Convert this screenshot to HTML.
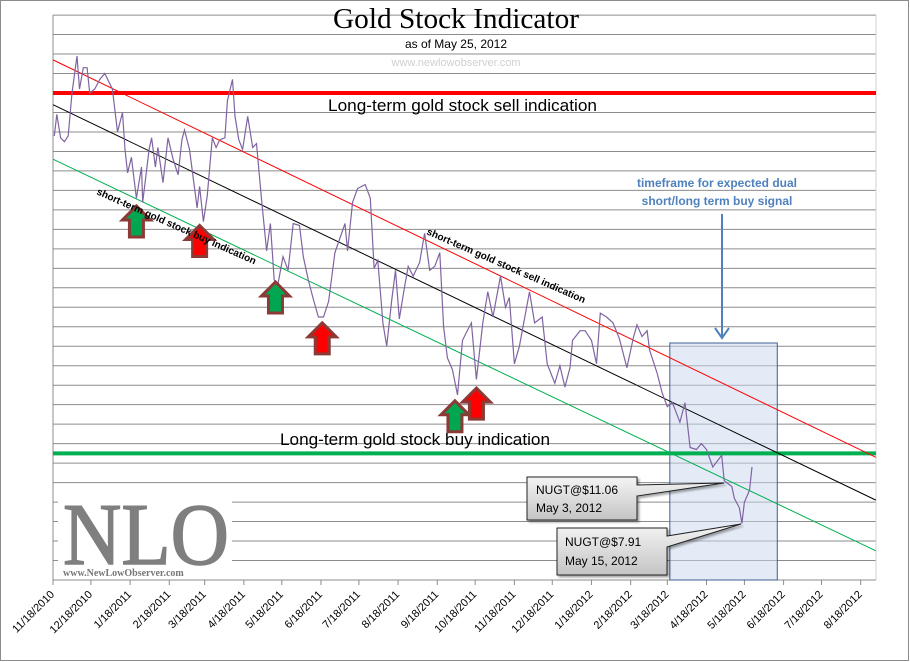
<!DOCTYPE html>
<html><head><meta charset="utf-8"><style>
html,body{margin:0;padding:0;background:#fff;}
svg{display:block;}
</style></head><body>
<svg id="chart" width="910" height="662" xmlns="http://www.w3.org/2000/svg" font-family="Liberation Sans, sans-serif">
<defs>
<linearGradient id="cg" x1="0" y1="0" x2="0" y2="1"><stop offset="0" stop-color="#f4f4f4"/><stop offset="1" stop-color="#c4c4c4"/></linearGradient>
</defs>
<rect x="0.5" y="0.5" width="908" height="660" fill="#fff" stroke="#8c8c8c"/>
<g id="grid"></g>
<g id="marks"></g>
<g id="ann"></g>
</svg>
<script>
var days=[1,3,6,9,12,15,19,21,24,27,29,33,37,41,47,51,55,57,59,62,66,70,71,76,78,81,83,87,91,95,99,102,104,108,112,114,116,119,122,126,129,132,136,138,142,144,147,150,154,158,161,165,169,172,175,178,182,186,190,195,198,202,206,210,214,218,223,231,233,237,241,247,251,254,257,261,264,268,271,274,278,281,285,290,294,298,302,306,309,312,316,320,324,327,331,335,340,344,348,354,358,361,365,369,377,381,387,391,397,401,405,409,411,417,421,426,430,433,438,443,448,454,459,462,466,470,472,478,482,486,490,496,500,504,509,513,517,522,529,531,537,539,543,545,547,551,553];
var levels=[22.8,23.9,22.7,22.5,22.8,25.0,26.9,25.2,26.3,26.3,25.0,25.2,25.7,26.0,25.2,23.0,24.0,22.1,20.9,21.7,19.6,21.2,19.4,22.1,22.7,21.2,22.2,20.4,22.7,21.6,20.8,22.6,23.1,22.1,20.1,19.1,20.2,18.4,19.7,22.7,22.2,22.6,22.7,24.6,25.7,23.8,22.6,22.1,23.8,22.2,22.4,19.5,16.9,18.3,15.4,15.2,16.6,15.9,18.3,18.2,16.6,15.4,14.4,13.5,13.5,14.3,16.8,18.3,16.9,19.4,20.1,20.3,19.6,16.0,16.4,13.2,12.0,14.4,15.9,13.4,15.0,16.1,15.6,16.3,17.8,15.9,16.1,16.8,13.0,11.4,10.8,9.5,12.3,12.7,13.2,10.3,13.2,14.8,13.5,15.6,14.0,14.5,11.1,12.0,14.8,13.2,13.5,11.1,10.1,11.0,9.9,10.9,12.3,12.8,12.8,12.3,11.1,13.7,13.5,13.2,12.4,10.9,12.4,13.1,12.5,12.8,11.8,10.6,9.6,8.9,9.1,8.1,9.1,6.8,6.7,7.0,6.7,5.8,6.4,5.1,4.8,4.2,3.7,2.9,4.0,4.6,5.8];
var tickLabels=["11/18/2010","12/18/2010","1/18/2011","2/18/2011","3/18/2011","4/18/2011","5/18/2011","6/18/2011","7/18/2011","8/18/2011","9/18/2011","10/18/2011","11/18/2011","12/18/2011","1/18/2012","2/18/2012","3/18/2012","4/18/2012","5/18/2012","6/18/2012","7/18/2012","8/18/2012"];
var sellLevel=25, buyLevel=6.5;
var redTrend=[26.7,6.3], blackTrend=[24.4,4.1], greenTrend=[21.6,1.5];
var trendDays=[0,651];
var boxDays=[488,573];
var arrowDays=[66,116,176,213,318,335];
var arrowLevels=[19.2,18.2,15.3,13.2,9.2,9.85];
var arrowColors=["#00a650","#ff0000","#00a650","#ff0000","#00a650","#ff0000"];

var NS="http://www.w3.org/2000/svg";
var X0=53,X1=876,Y0=15,Y1=580,pxPerDay=1.264,pxPerLevel=19.48;
function xs(d){return X0+d*pxPerDay;}
function ys(l){return Y1-l*pxPerLevel;}
function mk(tag,attrs,parent,text){var e=document.createElementNS(NS,tag);for(var k in attrs)e.setAttribute(k,attrs[k]);if(text!==undefined)e.textContent=text;parent.appendChild(e);return e;}
var grid=document.getElementById('grid'),marks=document.getElementById('marks'),ann=document.getElementById('ann');

for(var i=0;i<=29;i++){
  var g=mk('line',{x1:X0,x2:X1,y1:ys(i),y2:ys(i),stroke:'#8c8c8c','stroke-width':1},grid);
  
  
}
var ya=mk('line',{x1:X0,x2:X0,y1:Y0,y2:Y1,stroke:'#8c8c8c'},grid);


var rb=mk('line',{x1:X1,x2:X1,y1:Y0,y2:Y1,stroke:'#d0d0d0'},grid);



var start=new Date(2010,10,18);
tickLabels.forEach(function(t){
  var p=t.split('/');var d=new Date(+p[2],+p[0]-1,+p[1]);
  var dd=Math.round((d-start)/86400000);var x=xs(dd);
  var tk=mk('line',{x1:x,x2:x,y1:Y1,y2:Y1+5,stroke:'#8c8c8c'},grid);
  
  
  var ax=x+2, ay=Y1+15;
  var tx=mk('text',{x:ax,y:ay,'font-size':11,'text-anchor':'end',fill:'#000',transform:'rotate(-45 '+ax+' '+ay+')'},grid,t);
  
  
});

var bx=mk('rect',{x:xs(boxDays[0]),y:343,width:xs(boxDays[1])-xs(boxDays[0]),height:Y1-343,fill:'#c9d7ee','fill-opacity':0.5,stroke:'#3f5f8f','stroke-width':1},marks);



function hline(l,c,w,name){var e=mk('line',{x1:X0,x2:X1,y1:ys(l),y2:ys(l),stroke:c,'stroke-width':w},marks);}
hline(sellLevel,'#ff0000',4,'long-term-sell-line');
hline(buyLevel,'#00b050',4,'long-term-buy-line');
function tline(v,c,name){var e=mk('line',{x1:xs(trendDays[0]),x2:xs(trendDays[1]),y1:ys(v[0]),y2:ys(v[1]),stroke:c,'stroke-width':1},marks);}
tline(redTrend,'#ff0000','short-term-sell-trendline');
tline(blackTrend,'#000000','mid-trendline');
tline(greenTrend,'#00b050','short-term-buy-trendline');

var pts=days.map(function(d,i){return xs(d).toFixed(1)+','+ys(levels[i]).toFixed(1);}).join(' ');
var pl=mk('polyline',{points:pts,fill:'none',stroke:'#8064a2','stroke-width':1.2},marks);



arrowDays.forEach(function(d,i){
  var cx=xs(d),ty=ys(arrowLevels[i]);
  var p=[[cx,ty],[cx+14,ty+14],[cx+7,ty+14],[cx+7,ty+31],[cx-7,ty+31],[cx-7,ty+14],[cx-14,ty+14]].map(function(a){return a.join(',');}).join(' ');
  var a=mk('polygon',{points:p,fill:arrowColors[i],stroke:'#8b3a36','stroke-width':3,'stroke-linejoin':'miter'},marks);
  
  
});
</script>
<script>
(function(){
var NS="http://www.w3.org/2000/svg";var ann=document.getElementById('ann');
function mk(tag,attrs,text){var e=document.createElementNS(NS,tag);for(var k in attrs)e.setAttribute(k,attrs[k]);if(text!==undefined)e.textContent=text;ann.appendChild(e);return e;}
var e;
e=mk('rect',{x:58,y:497,width:174,height:82,fill:'#fff'});


e=mk('text',{x:146,y:564,'font-family':'Liberation Serif, serif','font-size':88,'text-anchor':'middle',fill:'#7f7f7f',stroke:'#7f7f7f','stroke-width':1.5,textLength:166,lengthAdjust:'spacingAndGlyphs'},'NLO');


e=mk('text',{x:63,y:576,'font-family':'Liberation Serif, serif','font-size':10,'font-weight':'bold',fill:'#777'},'www.NewLowObserver.com');


e=mk('text',{x:456,y:28,'font-family':'Liberation Serif, serif','font-size':28,'text-anchor':'middle',fill:'#000',textLength:246,lengthAdjust:'spacingAndGlyphs'},'Gold Stock Indicator');


e=mk('text',{x:456,y:48,'font-size':12,'text-anchor':'middle',fill:'#000'},'as of May 25, 2012');


e=mk('text',{x:456,y:66,'font-size':11,'text-anchor':'middle',fill:'#d0d0d0'},'www.newlowobserver.com');


e=mk('text',{x:328,y:111,'font-size':17,fill:'#000',textLength:269,lengthAdjust:'spacingAndGlyphs'},'Long-term gold stock sell indication');


e=mk('text',{x:280,y:445,'font-size':17,fill:'#000',textLength:270,lengthAdjust:'spacingAndGlyphs'},'Long-term gold stock buy indication');


e=mk('text',{x:96,y:194,'font-size':10,'font-weight':'bold',fill:'#000',transform:'rotate(24 96 194)'},'short-term gold stock buy indication');


e=mk('text',{x:426,y:234,'font-size':10,'font-weight':'bold',fill:'#000',transform:'rotate(23.7 426 234)'},'short-term gold stock sell indication');


e=mk('text',{x:717,y:187,'font-size':12,'font-weight':'bold','text-anchor':'middle',fill:'#4f81bd'},'timeframe for expected dual');


e=mk('text',{x:717,y:205,'font-size':12,'font-weight':'bold','text-anchor':'middle',fill:'#4f81bd'},'short/long term buy signal');


e=mk('line',{x1:722,y1:214,x2:722,y2:336,stroke:'#4f81bd','stroke-width':2});


e=mk('polyline',{points:'715,328 722,338 729,328',fill:'none',stroke:'#4f81bd','stroke-width':2});


e=mk('path',{d:'M527,477 H637 V485 L724,483 L637,496 V520 H527 Z',fill:'url(#cg)',stroke:'#222','stroke-width':1,style:'filter:drop-shadow(2px 2px 1px rgba(0,0,0,0.35))'});


e=mk('text',{x:536,y:494,'font-size':12,fill:'#000'},'NUGT@$11.06');


e=mk('text',{x:536,y:512,'font-size':12,fill:'#000'},'May 3, 2012');


e=mk('path',{d:'M557,528 H667 V536 L741,524 L667,547 V575 H557 Z',fill:'url(#cg)',stroke:'#222','stroke-width':1,style:'filter:drop-shadow(2px 2px 1px rgba(0,0,0,0.35))'});


e=mk('text',{x:565,y:546,'font-size':12,fill:'#000'},'NUGT@$7.91');


e=mk('text',{x:565,y:565,'font-size':12,fill:'#000'},'May 15, 2012');


})();
</script>
</body></html>
